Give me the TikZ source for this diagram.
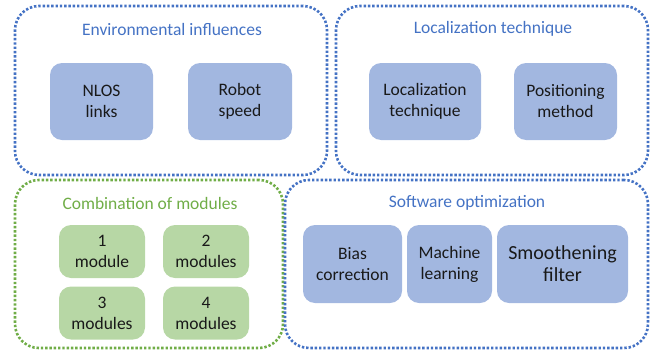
\documentclass[tikz,border=0pt]{standalone}
\usepackage{fontspec}
\setmainfont{Carlito}
\usepackage{xcolor}
\usetikzlibrary{positioning}

\definecolor{frameblue}{HTML}{4472C4}
\definecolor{fillblue}{HTML}{A2B7E0}
\definecolor{framegreen}{HTML}{70AD47}
\definecolor{fillgreen}{HTML}{B7D7A5}

\tikzset{
  groupbox/.style={draw=#1, line width=2.6pt, dash pattern=on 2.4pt off 1.9pt, rounded corners=24pt, inner sep=0pt},
  grouptitle/.style={text=#1, font=\fontsize{17.5}{20}\selectfont},
  itembox/.style={fill=#1, rounded corners=12pt, align=center, inner sep=0pt, text=black!90, font=\fontsize{17.5}{21}\selectfont},
}

\begin{document}
\begin{tikzpicture}[x=1pt,y=-1pt]
        \useasboundingbox (0,0) rectangle (656,351);
        % outer groups
        \node[groupbox=frameblue, minimum width=312pt, minimum height=169pt] (env) at (171,90.5) {};
        \node[groupbox=frameblue, minimum width=312pt, minimum height=169pt] (loc) at (492,90.5) {};
        \node[groupbox=framegreen, minimum width=268pt, minimum height=168pt] (comb) at (149,264) {};
        \node[groupbox=frameblue, minimum width=363pt, minimum height=168pt] (soft) at (466.5,264) {};
        % titles
        \node[grouptitle=frameblue] (envtitle) at (172,29) {Environmental influences};
        \node[grouptitle=frameblue] (loctitle) at (493,29) {Localization technique};
        \node[grouptitle=framegreen] (combtitle) at (150,203) {Combination of modules};
        \node[grouptitle=frameblue] (softtitle) at (467,203) {Software optimization};
        % upper items
        \foreach \x/\w/\name/\txt in {101.5/103/nlos/{NLOS\\links},240/104/speed/{Robot\\speed},425/112/technique/{Localization\\technique},565.5/103/method/{Positioning\\method}}{
            \node[itembox=fillblue, minimum width=\w pt, minimum height=77pt] (\name) at (\x,101.5) {\txt};}
        % modules
        \foreach \x/\y/\name/\txt in {102/251.5/one/{1\\module},206/251.5/two/{2\\modules},102/313/three/{3\\modules},206/313/four/{4\\modules}}{
            \node[itembox=fillgreen, minimum width=86pt, minimum height=53pt] (\name) at (\x,\y) {\txt};}
        % software items
        \node[itembox=fillblue, minimum width=99pt, minimum height=78pt] (bias) at (352.5,264) {Bias\\correction};
        \node[itembox=fillblue, minimum width=85pt, minimum height=78pt] (learning) at (449.5,264) {Machine\\learning};
        \node[itembox=fillblue, minimum width=131pt, minimum height=78pt, font=\fontsize{20}{22}\selectfont] (filter) at (562.5,264) {Smoothening\\filter};
\end{tikzpicture}
\end{document}
